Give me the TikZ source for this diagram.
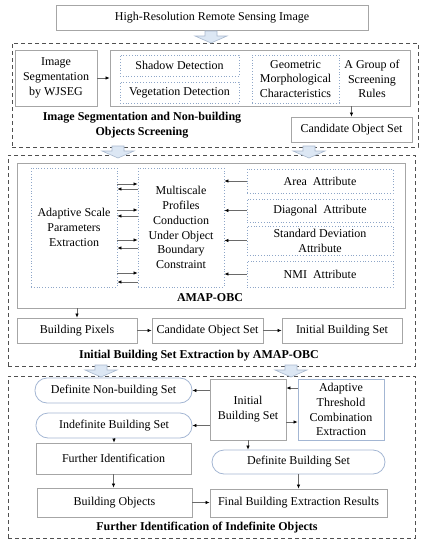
\documentclass[tikz,border=0pt]{standalone}
\usepackage{fontspec}
\setmainfont{Liberation Serif}
\usepackage{tikz}
\usetikzlibrary{arrows.meta}
\definecolor{boxgray}{HTML}{A6A6A6}
\definecolor{dotblue}{HTML}{8EA6C8}
\definecolor{pillblue}{HTML}{A3B6D3}
\definecolor{framegray}{HTML}{505050}
\definecolor{linegray}{HTML}{6A6A6A}
\definecolor{arrfill}{HTML}{DCE7F4}
\definecolor{arrline}{HTML}{A9B9CF}

\begin{document}
\begin{tikzpicture}[x=1pt,y=-1pt,
  font=\fontsize{12}{14.8}\selectfont,
  box/.style={draw=boxgray,line width=0.8pt,inner sep=0pt,align=center},
  dotbox/.style={draw=dotblue,dotted,line width=0.8pt,inner sep=0pt,align=center},
  pill/.style={draw=pillblue,line width=0.8pt,rounded corners=12pt,inner sep=0pt,align=center},
  dashframe/.style={draw=framegray,dash pattern=on 4pt off 3pt,line width=0.8pt,inner sep=0pt},
  grouplabel/.style={font=\fontsize{12}{14.8}\selectfont\bfseries,align=center,inner sep=0pt},
  arr/.style={draw=linegray,line width=0.7pt,-{Latex[length=4pt,width=3.5pt,color=black]}},
  blockarr/.style={fill=arrfill,draw=arrline,line width=0.6pt}]
\useasboundingbox (0,0) rectangle (423,550);

\node[box,minimum width=312,minimum height=25] (hrimg) at (212,17.5) {High-Resolution Remote Sensing Image};

% image segmentation and screening
\node[dashframe,minimum width=406,minimum height=104] (stage1) at (215,95) {};
\node[box,minimum width=82,minimum height=56] (wjseg) at (56,78) {Image\\Segmentation\\by WJSEG};
\node[box,minimum width=300,minimum height=56] (rules) at (260,78) {};
\node[dotbox,minimum width=119,minimum height=21] (shadow) at (179.5,65.5) {Shadow Detection};
\node[dotbox,minimum width=119,minimum height=21] (veg) at (179.5,92.5) {Vegetation Detection};
\node[dotbox,minimum width=87,minimum height=48] (geo) at (295.5,79) {Geometric\\Morphological\\Characteristics};
\node[align=center,inner sep=0pt] (group) at (372,79) {A Group of\\Screening\\Rules};
\node[box,minimum width=121,minimum height=25] (cand1) at (351.5,129.5) {Candidate Object Set};
\node[grouplabel] (lab1) at (142,125.5) {Image Segmentation and Non-building\\Objects Screening};
\draw[arr] (wjseg.east) -- (rules.west);
\draw[arr] (cand1.north |- rules.south) -- (cand1.north);

% AMAP-OBC
\node[dashframe,minimum width=407,minimum height=211] (stage2) at (211.5,260.5) {};
\node[box,minimum width=388,minimum height=145] (amap) at (211,235.5) {};
\node[dotbox,minimum width=86,minimum height=119] (adapt) at (74,227.5) {Adaptive Scale\\Parameters\\Extraction};
\node[dotbox,minimum width=86,minimum height=119] (multi) at (181,227.5) {Multiscale\\Profiles\\Conduction\\Under Object\\Boundary\\Constraint};
\node[dotbox,minimum width=146,minimum height=24] (area) at (320,181) {Area~~Attribute};
\node[dotbox,minimum width=146,minimum height=23] (diag) at (320,210.5) {Diagonal~~Attribute};
\node[dotbox,minimum width=146,minimum height=29] (std) at (320,240.5) {Standard Deviation\\Attribute};
\node[dotbox,minimum width=146,minimum height=26] (nmi) at (320,274) {NMI~~Attribute};
\node[grouplabel] (lab2a) at (210,298) {AMAP-OBC};
\foreach \src in {area,diag,std,nmi}
  \draw[arr] (\src.west) -- (\src.west -| multi.east);
\foreach \ya/\yb in {184/189,210/216,240/248,273/282} {
  \draw[arr] (adapt.east |- 0,\ya) -- (multi.west |- 0,\ya);
  \draw[arr] (multi.west |- 0,\yb) -- (adapt.east |- 0,\yb);
}
\node[box,minimum width=120,minimum height=25] (bpix) at (77,330.5) {Building Pixels};
\node[box,minimum width=111,minimum height=25] (cand2) at (207.5,330.5) {Candidate Object Set};
\node[box,minimum width=120,minimum height=25] (init1) at (342,330.5) {Initial Building Set};
\node[grouplabel] (lab2) at (199,356) {Initial Building Set Extraction by AMAP-OBC};
\draw[arr] (bpix.north |- amap.south) -- (bpix.north);
\draw[arr] (bpix) -- (cand2);
\draw[arr] (cand2) -- (init1);

% further identification
\node[dashframe,minimum width=407,minimum height=162] (stage3) at (211.5,457) {};
\node[pill,minimum width=157,minimum height=25] (defnon) at (113.5,390.5) {Definite Non-building Set};
\node[box,minimum width=76,minimum height=61] (init2) at (248,409.5) {Initial\\Building Set};
\node[draw=pillblue,line width=0.8pt,inner sep=0pt,align=center,minimum width=86,minimum height=61] (thresh) at (341,409.5) {Adaptive\\Threshold\\Combination\\Extraction};
\node[pill,minimum width=156,minimum height=25] (indef) at (114,425.5) {Indefinite Building Set};
\node[box,minimum width=155,minimum height=31] (further) at (113.5,458.5) {Further Identification};
\node[pill,minimum width=173,minimum height=24] (defbld) at (298.5,462) {Definite Building Set};
\node[box,minimum width=155,minimum height=29] (bobj) at (114.5,502.5) {Building Objects};
\node[box,minimum width=177,minimum height=28] (final) at (298.5,503) {Final Building Extraction Results};
\node[grouplabel] (lab3) at (207,528) {Further Identification of Indefinite Objects};
\draw[arr] (thresh.west |- 0,388) -- (init2.east |- 0,388);
\draw[arr] (init2.east |- 0,422) -- (thresh.west |- 0,422);
\draw[arr] (init2.west |- defnon) -- (defnon.east);
\draw[arr] (init2.west |- indef) -- (indef.east);
\draw[arr] (indef.south) -- (indef.south |- further.north);
\draw[arr] (init2.south) -- (init2.south |- defbld.north);
\draw[arr] (defbld.south) -- (final.north);
\draw[arr] (further.south) -- (further.south |- bobj.north);
\draw[arr] (bobj.east) -- (bobj.east -| final.west);

% block arrows between stages
\foreach \bx/\by in {211/31,118/146,309/146,101/365,291/365}
  \draw[blockarr] (\bx-6,\by) -- (\bx+6,\by) -- (\bx+6,\by+5) -- (\bx+16,\by+5)
    -- (\bx,\by+12) -- (\bx-16,\by+5) -- (\bx-6,\by+5) -- cycle;
\end{tikzpicture}
\end{document}
